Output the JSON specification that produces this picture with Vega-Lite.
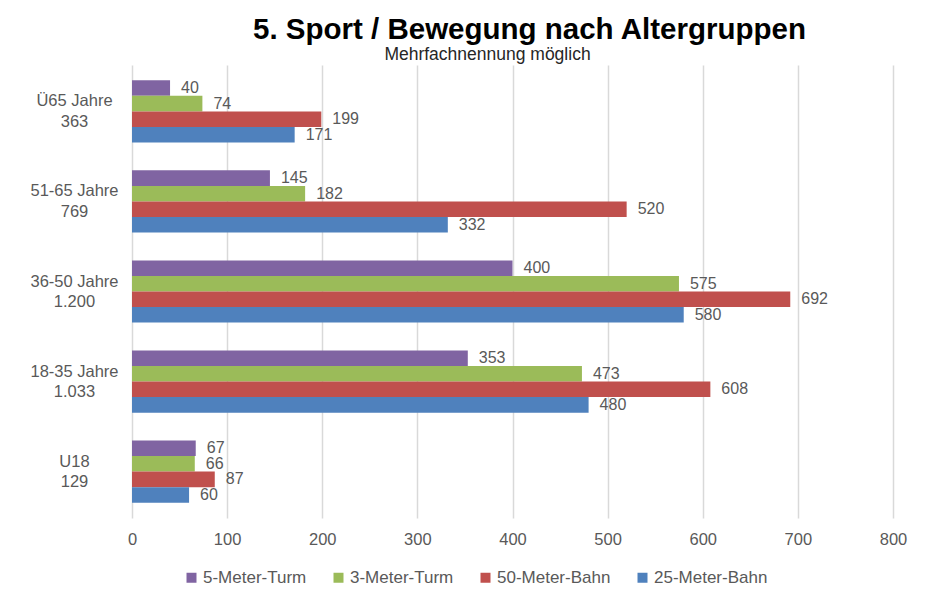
{
  "$schema": "https://vega.github.io/schema/vega-lite/v6.json",
  "width": 761,
  "height": 453,
  "autosize": {"type": "none"},
  "padding": {"left": 132, "right": 45, "top": 65, "bottom": 82},
  "title": {
    "text": "5. Sport / Bewegung nach Altergruppen",
    "anchor": "middle",
    "frame": "group",
    "baseline": "alphabetic",
    "dx": 17,
    "offset": -23,
    "font": "Liberation Sans",
    "fontSize": 29.5,
    "fontWeight": "bold",
    "color": "#000000"
  },
  "data": {
    "values": [
      {"group": "Ü65 Jahre|363", "series": "5-Meter-Turm", "value": 40},
      {"group": "Ü65 Jahre|363", "series": "3-Meter-Turm", "value": 74},
      {"group": "Ü65 Jahre|363", "series": "50-Meter-Bahn", "value": 199},
      {"group": "Ü65 Jahre|363", "series": "25-Meter-Bahn", "value": 171},
      {"group": "51-65 Jahre|769", "series": "5-Meter-Turm", "value": 145},
      {"group": "51-65 Jahre|769", "series": "3-Meter-Turm", "value": 182},
      {"group": "51-65 Jahre|769", "series": "50-Meter-Bahn", "value": 520},
      {"group": "51-65 Jahre|769", "series": "25-Meter-Bahn", "value": 332},
      {"group": "36-50 Jahre|1.200", "series": "5-Meter-Turm", "value": 400},
      {"group": "36-50 Jahre|1.200", "series": "3-Meter-Turm", "value": 575},
      {"group": "36-50 Jahre|1.200", "series": "50-Meter-Bahn", "value": 692},
      {"group": "36-50 Jahre|1.200", "series": "25-Meter-Bahn", "value": 580},
      {"group": "18-35 Jahre|1.033", "series": "5-Meter-Turm", "value": 353},
      {"group": "18-35 Jahre|1.033", "series": "3-Meter-Turm", "value": 473},
      {"group": "18-35 Jahre|1.033", "series": "50-Meter-Bahn", "value": 608},
      {"group": "18-35 Jahre|1.033", "series": "25-Meter-Bahn", "value": 480},
      {"group": "U18|129", "series": "5-Meter-Turm", "value": 67},
      {"group": "U18|129", "series": "3-Meter-Turm", "value": 66},
      {"group": "U18|129", "series": "50-Meter-Bahn", "value": 87},
      {"group": "U18|129", "series": "25-Meter-Bahn", "value": 60}
    ]
  },
  "encoding": {
    "y": {
      "field": "group",
      "type": "nominal",
      "sort": ["Ü65 Jahre|363", "51-65 Jahre|769", "36-50 Jahre|1.200", "18-35 Jahre|1.033", "U18|129"],
      "scale": {"paddingInner": 0.31, "paddingOuter": 0.17},
      "axis": {
        "title": null,
        "labelExpr": "split(datum.label, '|')",
        "labelAlign": "center",
        "labelPadding": 58,
        "labelOffset": -10,
        "labelLineHeight": 20.5,
        "ticks": false,
        "domain": false,
        "labelFont": "Liberation Sans",
        "labelFontSize": 16.5,
        "labelColor": "#595959"
      }
    },
    "yOffset": {
      "field": "series",
      "type": "nominal",
      "sort": ["5-Meter-Turm", "3-Meter-Turm", "50-Meter-Bahn", "25-Meter-Bahn"]
    }
  },
  "layer": [
    {
      "mark": {"type": "bar"},
      "encoding": {
        "x": {
          "field": "value",
          "type": "quantitative",
          "scale": {"domain": [0, 800]},
          "axis": {
            "title": null,
            "values": [0, 100, 200, 300, 400, 500, 600, 700, 800],
            "grid": true,
            "gridColor": "#d9d9d9",
            "gridWidth": 1.5,
            "domain": false,
            "ticks": false,
            "labelFlush": false,
            "labelPadding": 13,
            "labelFont": "Liberation Sans",
            "labelFontSize": 16.5,
            "labelColor": "#595959"
          }
        },
        "color": {
          "field": "series",
          "type": "nominal",
          "sort": ["5-Meter-Turm", "3-Meter-Turm", "50-Meter-Bahn", "25-Meter-Bahn"],
          "scale": {
            "domain": ["5-Meter-Turm", "3-Meter-Turm", "50-Meter-Bahn", "25-Meter-Bahn"],
            "range": ["#8064A2", "#9BBB59", "#C0504D", "#4F81BD"]
          },
          "legend": {
            "orient": "none",
            "legendX": 51,
            "legendY": 504,
            "direction": "horizontal",
            "title": null,
            "symbolType": "square",
            "symbolSize": 100,
            "symbolStrokeWidth": 0,
            "labelFont": "Liberation Sans",
            "labelFontSize": 17,
            "labelColor": "#595959",
            "labelOffset": 3,
            "columnPadding": 23
          }
        }
      }
    },
    {
      "mark": {
        "type": "text",
        "align": "left",
        "dx": 11,
        "font": "Liberation Sans",
        "fontSize": 16,
        "color": "#595959"
      },
      "encoding": {
        "x": {
          "field": "value",
          "type": "quantitative",
          "axis": {
            "orient": "top",
            "title": "Mehrfachnennung möglich",
            "labels": false,
            "ticks": false,
            "domain": false,
            "grid": false,
            "titleX": 355,
            "titleY": -6,
            "titleAlign": "center",
            "titleBaseline": "alphabetic",
            "titleFont": "Liberation Sans",
            "titleFontSize": 17.5,
            "titleFontWeight": "normal",
            "titleColor": "#262626"
          }
        },
        "text": {"field": "value", "type": "quantitative"}
      }
    }
  ],
  "resolve": {"axis": {"x": "independent"}},
  "config": {
    "view": {"stroke": null}
  }
}
